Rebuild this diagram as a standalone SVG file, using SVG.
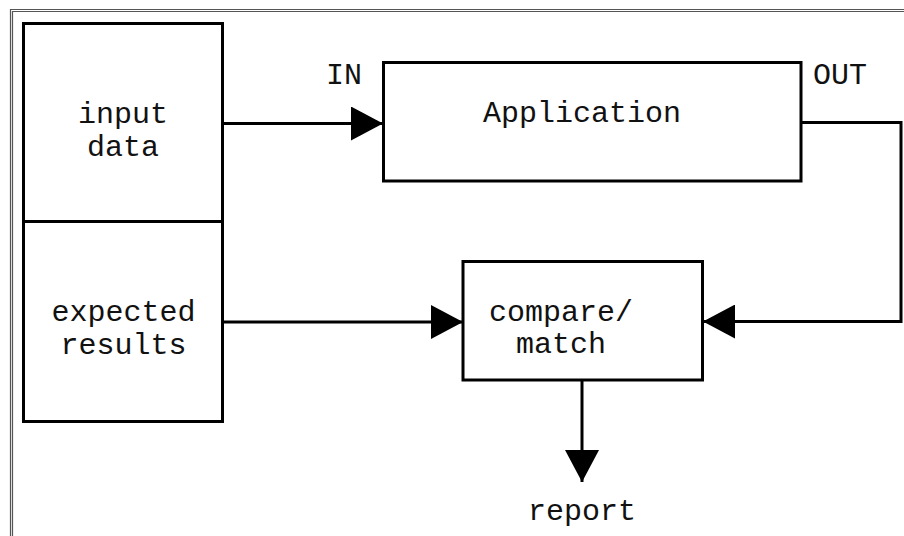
<svg xmlns="http://www.w3.org/2000/svg" width="904" height="536" viewBox="0 0 904 536">
  <style>
    .box { fill: #ffffff; stroke: #000000; stroke-width: 3; }
    .conn { fill: none; stroke: #000000; stroke-width: 3; }
    .lbl { font-family: "Liberation Mono", "Courier New", monospace; font-size: 30px; fill: #111111; text-anchor: middle; }
    .frame { fill: none; stroke: #555555; stroke-width: 1.2; }
  </style>
  <defs>
    <marker id="arrow" viewBox="0 0 32 34" refX="32" refY="17" markerWidth="32" markerHeight="34" markerUnits="userSpaceOnUse" orient="auto">
      <path d="M0,0 L32,17 L0,34 Z" fill="#000000"/>
    </marker>
  </defs>
  <rect x="0" y="0" width="904" height="536" fill="#ffffff"/>
  <g id="frame">
    <path class="frame" d="M10.5,536 V9.5 H904"/>
    <path class="frame" d="M12.5,536 V11.5 H904"/>
  </g>
  <g id="connectors">
    <path class="conn" d="M222,123.5 H383" marker-end="url(#arrow)"/>
    <path class="conn" d="M801,122.5 H901 V321.5 H703" marker-end="url(#arrow)"/>
    <path class="conn" d="M222,322 H463" marker-end="url(#arrow)"/>
    <path class="conn" d="M582,380 V482" marker-end="url(#arrow)"/>
  </g>
  <g id="input-data">
    <rect class="box" x="23.5" y="23.5" width="199" height="198"/>
    <text class="lbl" x="123" y="122.5">input</text>
    <text class="lbl" x="123" y="156">data</text>
  </g>
  <g id="expected-results">
    <rect class="box" x="23.5" y="221.5" width="199" height="200"/>
    <text class="lbl" x="123.5" y="321">expected</text>
    <text class="lbl" x="123.5" y="353.5">results</text>
  </g>
  <g id="application">
    <rect class="box" x="383.5" y="62.5" width="417.5" height="118.5"/>
    <text class="lbl" x="582" y="122">Application</text>
    <text class="lbl" x="344" y="84">IN</text>
    <text class="lbl" x="840" y="83.5">OUT</text>
  </g>
  <g id="compare-match">
    <rect class="box" x="463" y="261.5" width="239.5" height="118.5"/>
    <text class="lbl" x="561" y="320.5">compare/</text>
    <text class="lbl" x="561" y="353">match</text>
  </g>
  <g id="report">
    <text class="lbl" x="582" y="520">report</text>
  </g>
</svg>
